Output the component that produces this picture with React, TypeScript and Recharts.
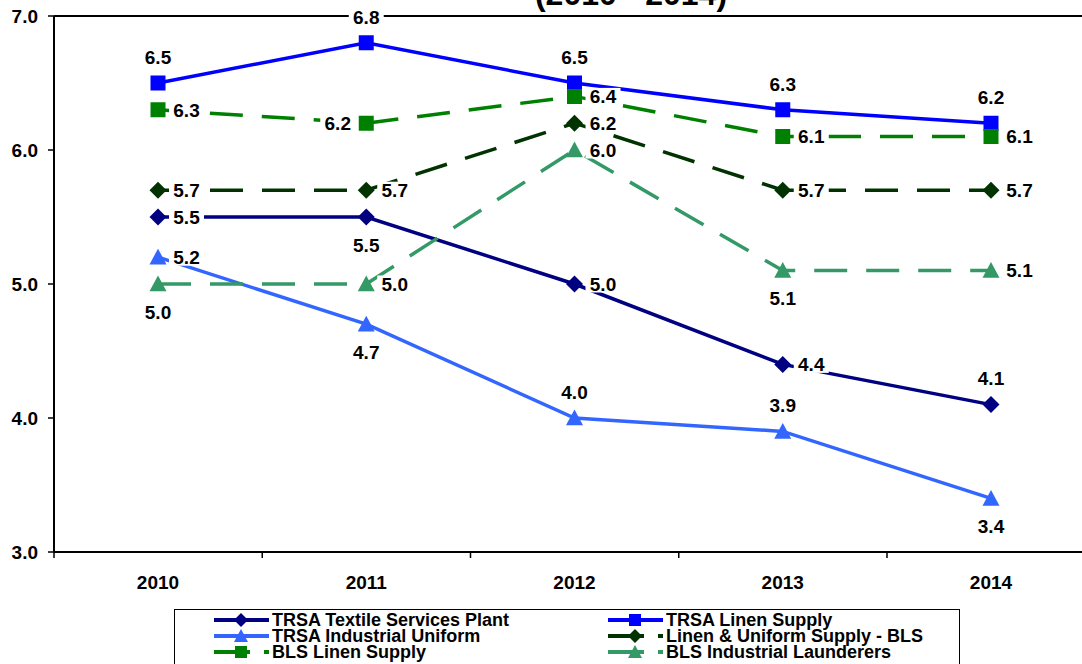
import {LineChart, Line, XAxis, YAxis, ReferenceLine, LabelList} from "recharts";

const years = ['2010', '2011', '2012', '2013', '2014'];
const textilePlant = [5.5, 5.5, 5.0, 4.4, 4.1];
const linenSupply = [6.5, 6.8, 6.5, 6.3, 6.2];
const industrialUniform = [5.2, 4.7, 4.0, 3.9, 3.4];
const linenUniformBls = [5.7, 5.7, 6.2, 5.7, 5.7];
const blsLinenSupply = [6.3, 6.2, 6.4, 6.1, 6.1];
const blsLaunderers = [5.0, 5.0, 6.0, 5.1, 5.1];
const yTicks = [3, 4, 5, 6, 7];

type Shape = 'diamond' | 'square' | 'triangle';
type Pos = 'above' | 'below' | 'right' | 'left';

interface SeriesDef {
    key: string;
    name: string;
    values: number[];
    color: string;
    dashed: boolean;
    shape: Shape;
    labels: Pos[];
}

const series: SeriesDef[] = [
    {key: 'tsp', name: 'TRSA Textile Services Plant', values: textilePlant, color: '#000080', dashed: false, shape: 'diamond', labels: ['right', 'below', 'right', 'right', 'above']},
    {key: 'ls', name: 'TRSA Linen Supply', values: linenSupply, color: '#0000FF', dashed: false, shape: 'square', labels: ['above', 'above', 'above', 'above', 'above']},
    {key: 'iu', name: 'TRSA Industrial Uniform', values: industrialUniform, color: '#3366FF', dashed: false, shape: 'triangle', labels: ['right', 'below', 'above', 'above', 'below']},
    {key: 'lub', name: 'Linen & Uniform Supply - BLS', values: linenUniformBls, color: '#003300', dashed: true, shape: 'diamond', labels: ['right', 'right', 'right', 'right', 'right']},
    {key: 'bls', name: 'BLS Linen Supply', values: blsLinenSupply, color: '#008000', dashed: true, shape: 'square', labels: ['right', 'left', 'right', 'right', 'right']},
    {key: 'bil', name: 'BLS Industrial Launderers', values: blsLaunderers, color: '#339966', dashed: true, shape: 'triangle', labels: ['below', 'right', 'right', 'below', 'right']},
];

// legend order: two columns, three rows
const legendOrder = ['tsp', 'ls', 'iu', 'lub', 'bls', 'bil'];

const data = years.map((year, i) => {
    const row: Record<string, string | number> = {year};
    series.forEach(s => row[s.key] = s.values[i]);
    return row;
});

const FONT = "'Liberation Sans', Arial, sans-serif";
const HALF_BAND = 104;
const DASH = '33 19';

function markerPath(shape: Shape, cx: number, cy: number, r: number) {
    switch (shape) {
        case 'square':
            return `M${cx - r},${cy - r}h${2 * r}v${2 * r}h${-2 * r}Z`;
        case 'diamond':
            return `M${cx},${cy - r}L${cx + r},${cy}L${cx},${cy + r}L${cx - r},${cy}Z`;
        case 'triangle':
        default:
            return `M${cx},${cy - r}L${cx + r},${cy + r * 0.85}L${cx - r},${cy + r * 0.85}Z`;
    }
}

function makeDot(s: SeriesDef) {
    const r = s.shape === 'square' ? 7.5 : 8.5;
    return (props: any) => {
        const {cx, cy, index} = props;
        if (cx == null || cy == null) return <g key={index}/>;
        return <path key={index} d={markerPath(s.shape, cx, cy, r)} fill={s.color} stroke="none"/>;
    };
}

function makeLabel(s: SeriesDef) {
    return (props: any) => {
        const vb = props.viewBox || {};
        const x = props.x ?? vb.x;
        const y = props.y ?? vb.y;
        const index = props.index ?? 0;
        if (x == null || y == null) return null;
        const text = Number(props.value).toFixed(1);
        const w = 27;
        const h = 17;
        const pos = s.labels[index];
        let tx = x;
        let ty = y;
        if (pos === 'above') ty = y - 26;
        if (pos === 'below') ty = y + 28;
        if (pos === 'right') tx = x + 15 + w / 2;
        if (pos === 'left') tx = x - 15 - w / 2;
        return <g key={`${s.key}-${index}`}>
            <rect x={tx - w / 2 - 4} y={ty - h / 2} width={w + 8} height={h} fill="#fff"/>
            <text x={tx} y={ty} dy="0.36em" textAnchor="middle" fontFamily={FONT} fontWeight="bold"
                  fontSize={19} fill="#000">{text}</text>
        </g>;
    };
}

function YearTick(props: any) {
    const {x, y, payload, index} = props;
    return <g>
        <line x1={x - HALF_BAND} y1={y} x2={x - HALF_BAND} y2={y + 6} stroke="#000" strokeWidth={1.5}/>
        {index === years.length - 1 &&
            <line x1={x + HALF_BAND} y1={y} x2={x + HALF_BAND} y2={y + 6} stroke="#000" strokeWidth={1.5}/>}
        <text x={x} y={y + 37} textAnchor="middle" fontFamily={FONT} fontWeight="bold" fontSize={19}
              fill="#000">{payload.value}</text>
    </g>;
}

function LegendItem({s}: { s: SeriesDef }) {
    const r = s.shape === 'square' ? 6 : 7;
    return <div style={{display: 'flex', alignItems: 'center', height: 16}}>
        <svg width={58} height={16} style={{flex: 'none'}}>
            <line x1={1} y1={8} x2={56} y2={8} stroke={s.color} strokeWidth={4}
                  strokeDasharray={s.dashed ? '36 14' : undefined}/>
            <path d={markerPath(s.shape, 28, 8, r)} fill={s.color}/>
        </svg>
        <span style={{fontFamily: FONT, fontWeight: 'bold', fontSize: 18, color: '#000', lineHeight: '16px',
            marginLeft: 1, whiteSpace: 'nowrap'}}>{s.name}</span>
    </div>;
}

function ChartLegend() {
    const items = legendOrder.map(k => series.find(s => s.key === k)!);
    return <div style={{
        position: 'absolute', left: 174, top: 609, width: 786, height: 70,
        border: '1.5px solid #000', background: '#fff', boxSizing: 'border-box'
    }}>
        {items.map((s, i) => {
            const col = i % 2;
            const row = Math.floor(i / 2);
            return <div key={s.key} style={{position: 'absolute', left: col === 0 ? 38 : 432, top: 2 + row * 16}}>
                <LegendItem s={s}/>
            </div>;
        })}
    </div>;
}

export default function App() {
    return <div style={{position: 'absolute', left: 0, top: 0, width: 1082, height: 664, overflow: 'hidden', background: '#fff'}}>
        <LineChart width={1100} height={664} data={data} margin={{top: 16, right: 5, bottom: 72, left: 0}}>
            <XAxis dataKey="year" padding={{left: HALF_BAND, right: HALF_BAND}} height={40} tickLine={false}
                   tickSize={0} tickMargin={0} axisLine={{stroke: '#000', strokeWidth: 2}} tick={<YearTick/>}
                   interval={0}/>
            <YAxis width={54} domain={[3, 7]} ticks={yTicks} type="number" allowDataOverflow
                   tickFormatter={(v: number) => v.toFixed(1)} tickSize={6} tickMargin={10}
                   axisLine={{stroke: '#000', strokeWidth: 2}} tickLine={{stroke: '#000', strokeWidth: 1.5}}
                   tick={{fill: '#000', fontSize: 19, fontWeight: 'bold', fontFamily: FONT}}/>
            <ReferenceLine y={7} stroke="#000" strokeWidth={2}/>
            {series.map(s => (
                <Line key={s.key} dataKey={s.key} name={s.name} type="linear" stroke={s.color} strokeWidth={3.5}
                      strokeDasharray={s.dashed ? DASH : undefined} dot={makeDot(s)} activeDot={false}
                      isAnimationActive={false}/>
            ))}
            {series.map(s => (
                <Line key={`${s.key}-labels`} dataKey={s.key} stroke="none" dot={false} activeDot={false}
                      legendType="none" isAnimationActive={false}>
                    <LabelList dataKey={s.key} content={makeLabel(s)}/>
                </Line>
            ))}
            <text x={631} y={5} textAnchor="middle" fontFamily={FONT} fontWeight="bold" fontSize={32}
                  fill="#000">(2010 - 2014)</text>
        </LineChart>
        <ChartLegend/>
    </div>;
}
